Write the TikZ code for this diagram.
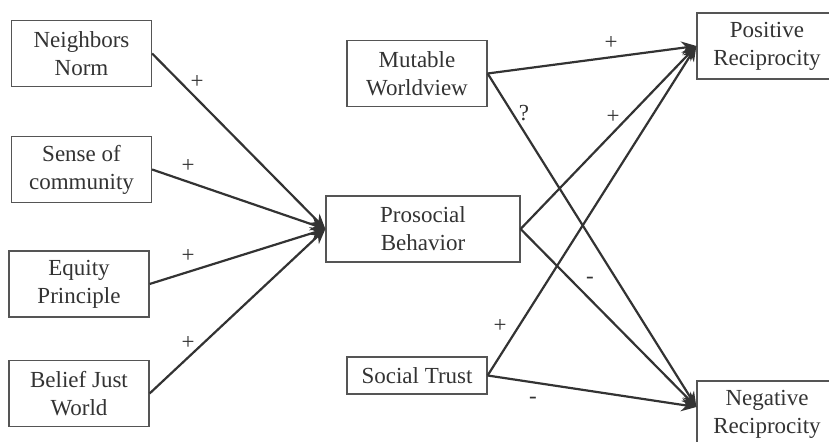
\documentclass[tikz,border=0pt]{standalone}
\usepackage{fontspec}
\setmainfont{Liberation Serif}
\newfontfamily\boxfont{Liberation Serif}
\usepackage{tikz}
\usetikzlibrary{arrows.meta,positioning}
\definecolor{ink}{HTML}{333333}
\definecolor{frame}{HTML}{555555}

\begin{document}
\begin{tikzpicture}[x=0.5pt, y=-0.5pt,
  box/.style={rectangle, draw=frame, line width=0.6pt, fill=white, text=ink, align=center,
    minimum width=70pt, minimum height=33pt, inner sep=1pt,
    font=\boxfont\fontsize{11.5}{14}\selectfont},
  lbl/.style={text=ink, inner sep=0pt, font=\boxfont\fontsize{11.5}{14}\selectfont},
  path/.style={draw=ink, line width=1.1pt, -{Stealth[length=7.5pt, width=6.5pt]}}]
  \clip (0,0) rectangle (829,442);

  \node[box] (nn) at (81.5,53.5) {Neighbors\\Norm};
  \node[box] (sc) at (81.5,169.5) {Sense of\\community};
  \node[box] (ep) at (79,284) {Equity\\Principle};
  \node[box] (bj) at (79,393.5) {Belief Just\\World};

  \node[box] (mw) at (417,73.5) {Mutable\\Worldview};
  \node[box, minimum width=97pt] (pb) at (423,229) {Prosocial\\Behavior};
  \node[box, minimum height=18.5pt] (st) at (417,375.5) {Social Trust};

  \node[box] (pr) at (767,46) {Positive\\Reciprocity};
  \node[box] (nr) at (767,414) {Negative\\Reciprocity};

  \draw[path] (nn.east) -- (pb.west);
  \draw[path] (sc.east) -- (pb.west);
  \draw[path] (ep.east) -- (pb.west);
  \draw[path] (bj.east) -- (pb.west);

  \draw[path] (mw.east) -- (pr.west);
  \draw[path] (mw.east) -- ([yshift=3.5pt]nr.west);
  \draw[path] (pb.east) -- (pr.west);
  \draw[path] (pb.east) -- ([yshift=3.5pt]nr.west);
  \draw[path] (st.east) -- (pr.west);
  \draw[path] (st.east) -- ([yshift=3.5pt]nr.west);

  \node[lbl] (l1) at (197,82) {+};
  \node[lbl] (l2) at (188,166) {+};
  \node[lbl] (l3) at (188,256) {+};
  \node[lbl] (l4) at (188,343) {+};
  \node[lbl] (l5) at (524,113) {?};
  \node[lbl] (l6) at (611,43) {+};
  \node[lbl] (l7) at (613,117) {+};
  \node[lbl] (l8) at (590,280) {-};
  \node[lbl] (l9) at (500,326) {+};
  \node[lbl] (l10) at (533,400) {-};
\end{tikzpicture}
\end{document}
